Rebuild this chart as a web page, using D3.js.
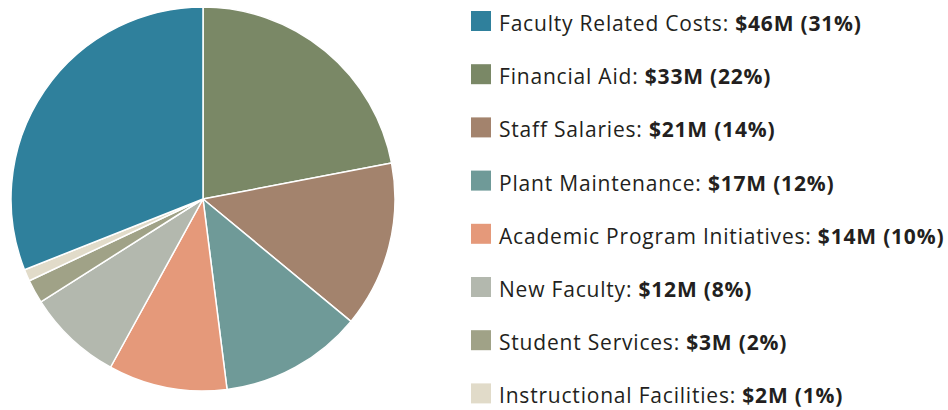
<!DOCTYPE html>
<html>
<head>
<meta charset="utf-8">
<script src="https://cdn.jsdelivr.net/npm/d3@7"></script>
<style>
body { margin: 0; background: #fff; }
.legend text { font: 21px "Open Sans", sans-serif; fill: #231f20; letter-spacing: 0.8px; }
.legend tspan.val { font-weight: bold; }
</style>
</head>
<body>
<div class="target"></div>
<script>
// chart data
var categories = ["Faculty Related Costs", "Financial Aid", "Staff Salaries", "Plant Maintenance",
  "Academic Program Initiatives", "New Faculty", "Student Services", "Instructional Facilities"];
var amounts = [46, 33, 21, 17, 14, 12, 3, 2];      // $M
var percents = [31, 22, 14, 12, 10, 8, 2, 1];      // share of total
var colors = ["#2f809c", "#7a8866", "#a3836d", "#6f9a98", "#e5997a", "#b3b8ae", "#a0a287", "#e1dbc9"];

var width = 948, height = 410;
var cx = 203, cy = 199, radius = 192;

var svg = d3.select(".target").append("svg")
  .attr("width", width)
  .attr("height", height);

var rows = categories.map(function(c, i) {
  return {name: c, amount: amounts[i], pct: percents[i], color: colors[i], idx: i};
});

// Faculty Related Costs is the last slice clockwise, ending at 12 o'clock
var pieOrder = rows.slice(1).concat(rows.slice(0, 1));

var pie = d3.pie()
  .sort(null)
  .value(function(d) { return d.pct; });

var arc = d3.arc()
  .innerRadius(0)
  .outerRadius(radius);

svg.append("g")
  .attr("transform", "translate(" + cx + "," + cy + ")")
  .selectAll("path")
  .data(pie(pieOrder))
  .enter()
  .append("path")
    .attr("d", arc)
    .attr("fill", function(d) { return d.data.color; })
    .attr("stroke", "#fff")
    .attr("stroke-width", 1.5)
    .attr("stroke-linejoin", "round");

// legend
var y = d3.scaleBand()
  .domain(categories)
  .range([11, 11 + 53.2 * categories.length])
  .paddingInner(0);

var legend = svg.append("g").attr("class", "legend");

var item = legend.selectAll("g")
  .data(rows)
  .enter()
  .append("g")
    .attr("transform", function(d) { return "translate(471," + y(d.name) + ")"; });

item.append("rect")
  .attr("width", 20)
  .attr("height", 20)
  .attr("fill", function(d) { return d.color; });

var label = item.append("text")
  .attr("x", 28)
  .attr("y", 20);

label.append("tspan").text(function(d) { return d.name + ": "; });
label.append("tspan")
  .attr("class", "val")
  .text(function(d) { return "$" + d.amount + "M (" + d.pct + "%)"; });
</script>
</body>
</html>
